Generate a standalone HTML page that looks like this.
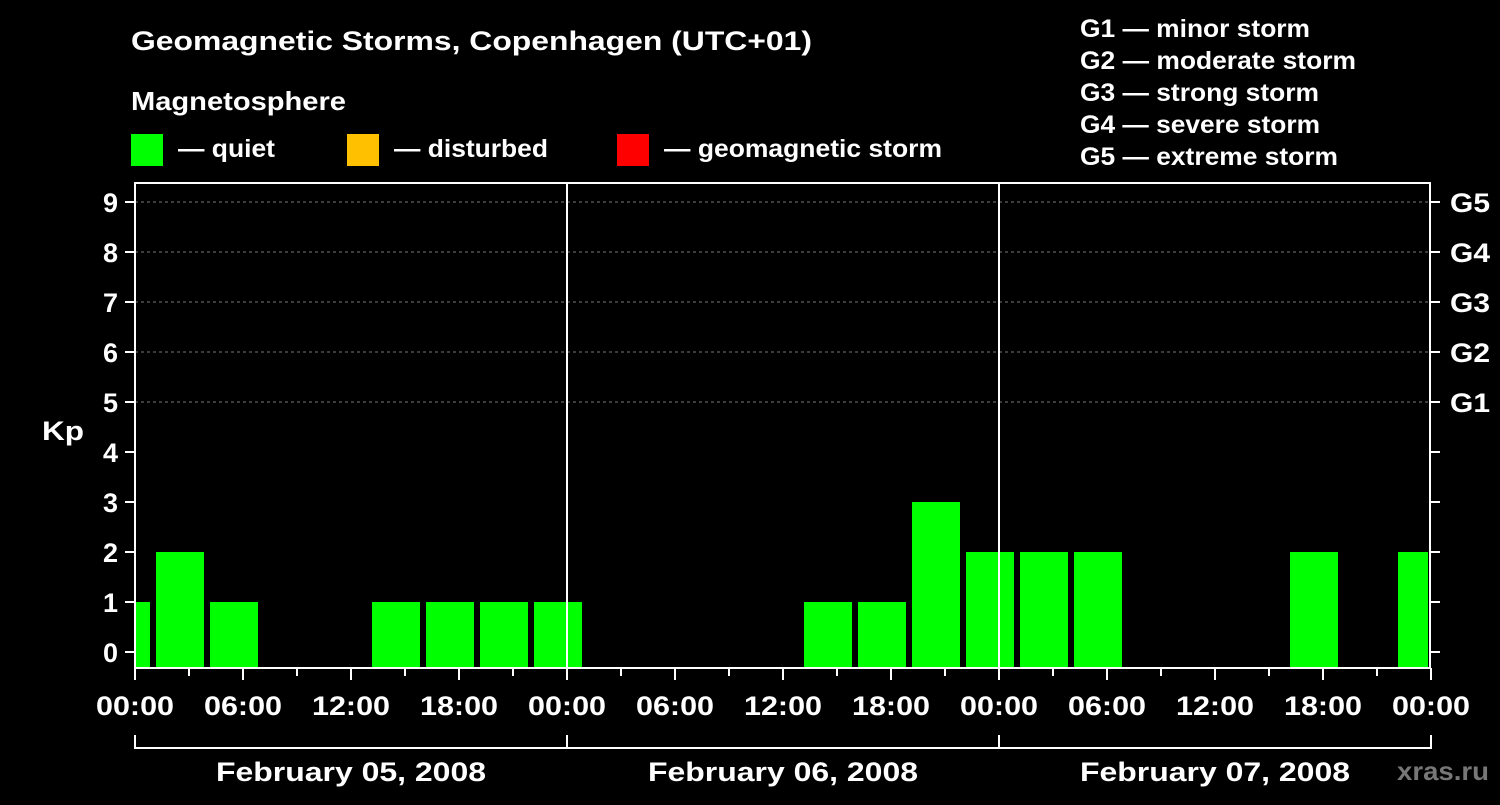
<!DOCTYPE html>
<html><head><meta charset="utf-8"><style>
body{margin:0;background:#000;}
svg text{font-family:"Liberation Sans",sans-serif;font-weight:bold;fill:#fff;}
</style></head><body>
<svg id="c" width="1500" height="800" xmlns="http://www.w3.org/2000/svg">
<rect width="1500" height="800" fill="#000"/>
<text x="131" y="50" font-size="27" textLength="681" lengthAdjust="spacingAndGlyphs">Geomagnetic Storms, Copenhagen (UTC+01)</text>
<text x="131" y="110" font-size="26" textLength="215" lengthAdjust="spacingAndGlyphs">Magnetosphere</text>
<g><rect x="131" y="134" width="32" height="32" fill="#00ff00"/><text x="178" y="157" font-size="25" textLength="97" lengthAdjust="spacingAndGlyphs">— quiet</text></g>
<g><rect x="347" y="134" width="32" height="32" fill="#ffc000"/><text x="394" y="157" font-size="25" textLength="154" lengthAdjust="spacingAndGlyphs">— disturbed</text></g>
<g><rect x="617" y="134" width="32" height="32" fill="#ff0000"/><text x="664" y="157" font-size="25" textLength="278" lengthAdjust="spacingAndGlyphs">— geomagnetic storm</text></g>
<g font-size="25">
<text x="1080" y="37" textLength="230" lengthAdjust="spacingAndGlyphs">G1 — minor storm</text>
<text x="1080" y="69" textLength="276" lengthAdjust="spacingAndGlyphs">G2 — moderate storm</text>
<text x="1080" y="101" textLength="239" lengthAdjust="spacingAndGlyphs">G3 — strong storm</text>
<text x="1080" y="133" textLength="240" lengthAdjust="spacingAndGlyphs">G4 — severe storm</text>
<text x="1080" y="165" textLength="258" lengthAdjust="spacingAndGlyphs">G5 — extreme storm</text>
</g>
<text x="42" y="440" font-size="27" textLength="42" lengthAdjust="spacingAndGlyphs">Kp</text>
<text x="1397" y="780" font-size="26" style="fill:#777" textLength="92" lengthAdjust="spacingAndGlyphs">xras.ru</text>
<g id="grid"></g><g id="bars"></g><g id="axes"></g>
</svg>
<script>
const kpValues=[1,2,1,0,0,1,1,1,1, 0,0,0,0,1,1,3,2, 2,2,0,0,0,2,0,2];
const dayLabels=["February 05, 2008","February 06, 2008","February 07, 2008"];
const gLabels=["G1","G2","G3","G4","G5"];
const hourLabels=["00:00","06:00","12:00","18:00"];
const NS="http://www.w3.org/2000/svg";
const X0=135,X1=1430,PXH=18,Y0=652,PXK=50,YB=668,YT=183;
const xH=h=>X0+h*PXH, yK=k=>Y0-k*PXK;
function mk(tag,attrs,parent){const e=document.createElementNS(NS,tag);for(const k in attrs)e.setAttribute(k,attrs[k]);parent.appendChild(e);return e;}
const grid=document.getElementById('grid'),bars=document.getElementById('bars'),axes=document.getElementById('axes');
for(let k=5;k<=9;k++){const l=mk('line',{x1:X0,x2:X1,y1:yK(k),y2:yK(k),stroke:'#777','stroke-dasharray':'3,3'},grid);

}
kpValues.forEach((v,i)=>{
  if(v<=0)return;
  let hs=i===0?-2:1+3*(i-1), he=hs+3;
  let x1=Math.max(xH(hs)+3,X0), x2=Math.min(xH(he)-3,X1-2);
  const r=mk('rect',{x:x1,y:yK(v),width:x2-x1,height:YB-yK(v),fill:v>=5?'#ff0000':v>=4?'#ffc000':'#00ff00'},bars);
  
  
});
const frame=mk('rect',{x:X0,y:YT,width:X1-X0,height:YB-YT,fill:'none',stroke:'#fff','stroke-width':2},axes);


[1,2].forEach(d=>{mk('line',{x1:xH(24*d),x2:xH(24*d),y1:YT,y2:YB,stroke:'#fff','stroke-width':2},axes);});
for(let k=0;k<=9;k++){
  mk('line',{x1:X0-10,x2:X0,y1:yK(k),y2:yK(k),stroke:'#fff','stroke-width':2},axes);
  mk('line',{x1:X1,x2:X1+10,y1:yK(k),y2:yK(k),stroke:'#fff','stroke-width':2},axes);
  const t=mk('text',{x:X0-17,y:yK(k)+10,'font-size':27,'text-anchor':'end'},axes);t.textContent=k;
  
  
}
gLabels.forEach((g,i)=>{const t=mk('text',{x:X1+20,y:yK(5+i)+10,'font-size':27,textLength:40,lengthAdjust:'spacingAndGlyphs'},axes);t.textContent=g;

});
for(let h=0;h<=72;h+=3){
  mk('line',{x1:xH(h),x2:xH(h),y1:YB,y2:YB+(h%6===0?12:8),stroke:'#fff','stroke-width':2},axes);
  if(h%6===0){const t=mk('text',{x:xH(h)-39,y:715,'font-size':27,textLength:78,lengthAdjust:'spacingAndGlyphs'},axes);t.textContent=hourLabels[(h%24)/6];
  
  }
}
mk('line',{x1:X0,x2:X1,y1:748,y2:748,stroke:'#fff','stroke-width':2},axes);
for(let d=0;d<=3;d++)mk('line',{x1:xH(24*d),x2:xH(24*d),y1:735,y2:749,stroke:'#fff','stroke-width':2},axes);
dayLabels.forEach((s,d)=>{const t=mk('text',{x:xH(24*d+12)-135,y:781,'font-size':27,textLength:270,lengthAdjust:'spacingAndGlyphs'},axes);t.textContent=s;

});
</script>
</body></html>
